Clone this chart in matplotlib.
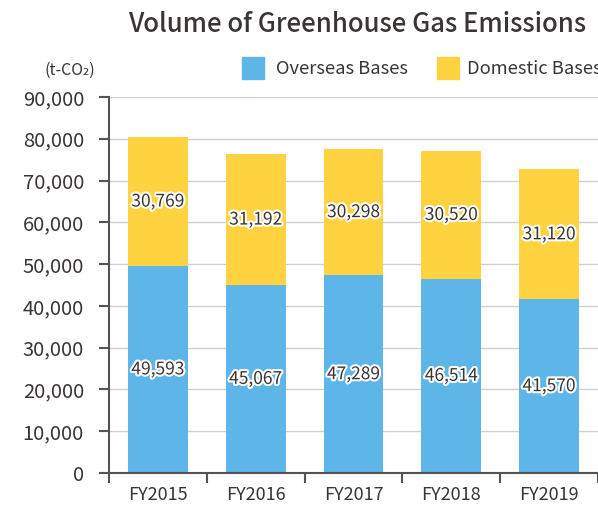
import numpy as np
import matplotlib
matplotlib.use("Agg")
import matplotlib.pyplot as plt
import matplotlib.patheffects as pe
from matplotlib.patches import Rectangle

plt.rcParams['font.family'] = ['Noto Sans CJK JP', 'DejaVu Sans']

years = ['FY2015', 'FY2016', 'FY2017', 'FY2018', 'FY2019']
overseas = [49593, 45067, 47289, 46514, 41570]
domestic = [30769, 31192, 30298, 30520, 31120]
yticks = np.arange(0, 90001, 10000)

blue = '#5db5e8'
yellow = '#ffd23f'
txt = '#3a3434'
axc = '#5a5252'

fig = plt.figure(figsize=(5.98, 5.09), dpi=100)
ax = fig.add_axes([109/598, 36/509, 1 - 109/598, 376/509])

x = np.arange(len(years))
w = 0.61
ax.bar(x, overseas, w, color=blue, zorder=2)
ax.bar(x, domestic, w, bottom=overseas, color=yellow, zorder=2)

stroke = [pe.withStroke(linewidth=3, foreground='white')]
for i in range(len(years)):
    ax.text(x[i], overseas[i] / 2, f'{overseas[i]:,}', ha='center', va='center',
            fontsize=12.5, color=txt, path_effects=stroke, zorder=3)
    ax.text(x[i], overseas[i] + domestic[i] / 2, f'{domestic[i]:,}', ha='center', va='center',
            fontsize=12.5, color=txt, path_effects=stroke, zorder=3)

ax.set_xlim(-0.5, -0.5 + (598 - 109) / 99.5)
ax.set_ylim(0, 90000)
ax.set_yticks(yticks)
ax.set_yticklabels([f'{v:,}' for v in yticks], fontsize=14.5, color=txt)
ax.yaxis.grid(True, color='#cfcfcf', linewidth=1, zorder=0)
ax.set_axisbelow(True)

ax.set_xticks(np.arange(len(years) + 1) - 0.5)
ax.set_xticklabels([])
ax.set_xticks(x, minor=True)
ax.set_xticklabels(years, minor=True, fontsize=13, color=txt)
ax.tick_params(axis='x', which='minor', length=0, pad=9)
ax.tick_params(axis='x', which='major', length=7, width=1.5, color=axc, direction='out')
ax.tick_params(axis='y', length=7, width=1.5, color=axc, pad=11)

for s in ['top', 'right']:
    ax.spines[s].set_visible(False)
for s in ['left', 'bottom']:
    ax.spines[s].set_color(axc)
    ax.spines[s].set_linewidth(1.5)

fig.text(357/598, 1 - 25/509, 'Volume of Greenhouse Gas Emissions', ha='center', va='center',
         fontsize=18.5, fontweight='medium', color=txt)
fig.text(70/598, 1 - 70/509, '(t-CO₂)', ha='center', va='center', fontsize=11.5, color=txt)

fig.patches.append(Rectangle((242/598, 1 - 79/509), 22/598, 22/509, transform=fig.transFigure,
                             color=blue, figure=fig))
fig.text(276/598, 1 - 69/509, 'Overseas Bases', ha='left', va='center', fontsize=13.2, color=txt)
fig.patches.append(Rectangle((437/598, 1 - 79/509), 22/598, 22/509, transform=fig.transFigure,
                             color=yellow, figure=fig))
fig.text(467/598, 1 - 69/509, 'Domestic Bases', ha='left', va='center', fontsize=13.2, color=txt)

fig.savefig('out.png', dpi=100)
